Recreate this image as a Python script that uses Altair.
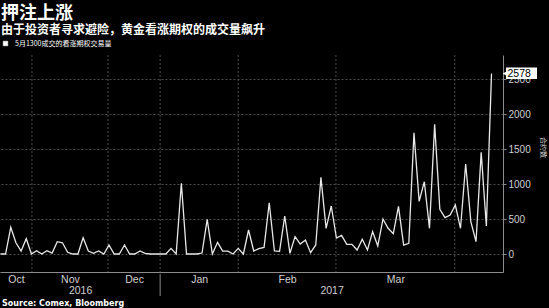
import altair as alt
import pandas as pd

# ---- data ----
volumes = [0, 0, 381, 161, 43, 219, 0, 47, 0, 47,
           14, 176, 161, 24, 0, 0, 233, 43, 10, 43,
           0, 129, 0, 0, 129, 0, 0, 43, 10, 0,
           0, 0, 0, 81, 0, 1010, 0, 0, 0, 14,
           495, 0, 167, 43, 40, 0, 81, 0, 343, 43,
           76, 95, 733, 43, 38, 543, 10, 248, 143, 200,
           19, 129, 1095, 367, 686, 228, 265, 138, 138, 57,
           210, 57, 319, 114, 500, 367, 290, 680, 126, 152,
           1733, 752, 1033, 367, 1852, 638, 519, 557, 700, 367,
           1286, 462, 176, 1452, 400, 2578]
month_names = ["Oct", "Nov", "Dec", "Jan", "Feb", "Mar"]
month_bounds = [6.1, 20.8, 30.9, 46.0, 64.9, 87.9]   # trading-day index where each new month starts
year_names = ["2016", "2017"]
year_bounds = [30.9]
y_ticks = [0, 500, 1000, 1500, 2000, 2500]
series_name = "5月1300成交的看涨期权交易量"
y_title = "合约数"
title_text = "押注上涨"
subtitle_text = "由于投资者寻求避险，黄金看涨期权的成交量飙升"
source_text = ["Source: Comex, Bloomberg"]

x_domain = [-0.08, 97.22]
y_domain = [-257, 2843]

df = pd.DataFrame({"idx": list(range(len(volumes))), "vol": volumes, "series": series_name})
last = df.tail(1).copy()
last["label"] = str(volumes[-1])
src_df = pd.DataFrame({"t": source_text})

# month label midpoints and label expressions
edges = [x_domain[0]] + month_bounds
month_mids = [(edges[i] + edges[i + 1]) / 2 for i in range(len(month_names))]
yedges = [x_domain[0]] + year_bounds + [x_domain[1]]
year_mids = [(yedges[i] + yedges[i + 1]) / 2 for i in range(len(year_names))]


def label_expr(names, uppers):
    expr = "''"
    for name, b in reversed(list(zip(names, uppers))):
        expr = f"datum.value < {b} ? '{name}' : {expr}"
    return expr


month_expr = label_expr(month_names, month_bounds[: len(month_names)])
year_expr = label_expr(year_names, year_bounds + [x_domain[1] + 1])

xscale = alt.Scale(domain=x_domain, nice=False, zero=False)
yscale = alt.Scale(domain=y_domain, nice=False, zero=False)
LAT = "Liberation Sans"
CJK = "Noto Sans CJK SC"

y_axis = alt.Axis(orient="right", values=y_ticks, format="d", grid=True, gridDash=[2, 2],
                  gridColor="#4d4d4d", domainColor="#8c8c8c", tickColor="#8c8c8c",
                  tickSize=3, labelPadding=2, labelColor="#cfcfcf", labelFont=LAT,
                  labelFontSize=10, title=y_title, titleFont=CJK, titleFontSize=7,
                  titleFontWeight="normal", titleColor="#cfcfcf", titleAngle=90,
                  titleX=39, titleY=92, titleAlign="center", titleBaseline="middle")

line = alt.Chart(df).mark_line(strokeWidth=1.3).encode(
    x=alt.X("idx:Q", scale=xscale,
            axis=alt.Axis(orient="bottom", values=month_mids, labelExpr=month_expr,
                          ticks=False, tickSize=0, grid=False, domainColor="#8c8c8c",
                          labelColor="#cfcfcf", labelFont=LAT, labelFontSize=10.5,
                          labelPadding=2, title=None)),
    y=alt.Y("vol:Q", scale=yscale, axis=y_axis),
    color=alt.Color("series:N", scale=alt.Scale(range=["#e8e8e8"]),
                    legend=alt.Legend(orient="none", legendX=2, legendY=-15, title=None,
                                      symbolType="square", symbolSize=22,
                                      symbolFillColor="#ffffff", symbolStrokeColor="#ffffff",
                                      symbolStrokeWidth=0.5,
                                      labelColor="#ffffff", labelFontSize=7, labelFont=CJK,
                                      labelOffset=6, padding=0)),
)

grid_df = pd.DataFrame({"b": month_bounds})
vgrid = alt.Chart(grid_df).mark_rule(strokeDash=[2, 2], color="#4d4d4d", strokeWidth=1).encode(
    x=alt.X("b:Q", scale=xscale,
            axis=alt.Axis(orient="bottom", values=year_mids, labelExpr=year_expr,
                          ticks=False, tickSize=0, grid=False, domain=False,
                          labelColor="#cfcfcf", labelFont=LAT, labelFontSize=10.5,
                          labelPadding=13, title=None)),
)

ysep_df = pd.DataFrame({"b": year_bounds})
ysep = alt.Chart(ysep_df).mark_rule(color="#8c8c8c", strokeWidth=1).encode(
    x=alt.X("b:Q", scale=xscale, axis=None),
    y=alt.value(219), y2=alt.value(241),
)

box = alt.Chart(last).mark_rect(color="#ffffff", xOffset=14.5, x2Offset=45.5,
                                 yOffset=-6, y2Offset=5.5).encode(
    x=alt.X("idx:Q", scale=xscale, axis=None), x2="idx:Q",
    y=alt.Y("vol:Q", scale=yscale, axis=y_axis), y2="vol:Q",
)
arrow = alt.Chart(last).mark_point(shape="triangle-left", filled=True, color="#ffffff",
                                   size=28, opacity=1, xOffset=13.5).encode(
    x=alt.X("idx:Q", scale=xscale, axis=None),
    y=alt.Y("vol:Q", scale=yscale, axis=y_axis),
)
label = alt.Chart(last).mark_text(align="left", baseline="middle", dx=16, dy=0,
                                  color="#000000", font=LAT, fontSize=10.5).encode(
    x=alt.X("idx:Q", scale=xscale, axis=None),
    y=alt.Y("vol:Q", scale=yscale, axis=y_axis),
    text="label:N",
)

source = alt.Chart(src_df).mark_text(align="left", baseline="alphabetic", color="#ffffff",
                                     font="DejaVu Sans", fontSize=8, fontWeight="bold").encode(
    x=alt.value(2), y=alt.value(251), text="t:N",
)

chart = (
    alt.layer(vgrid, line, ysep, box, arrow, label, source)
    .resolve_axis(x="independent")
    .properties(
        width=503, height=217,
        padding={"left": 0, "top": 55, "right": 46, "bottom": 36},
        autosize=alt.AutoSizeParams(type="none"),
        background="#000000",
        title=alt.TitleParams(
            text=title_text, subtitle=subtitle_text, anchor="start", frame="group",
            font=CJK, fontSize=18, fontWeight="bold", color="#ffffff",
            subtitleFont=CJK, subtitleFontSize=12, subtitleFontWeight="bold",
            subtitleColor="#ffffff", subtitlePadding=2, offset=4, dx=1,
        ),
    )
    .configure_view(stroke=None)
)

chart.save("out.html", embed_options={"renderer": "svg", "actions": False})
